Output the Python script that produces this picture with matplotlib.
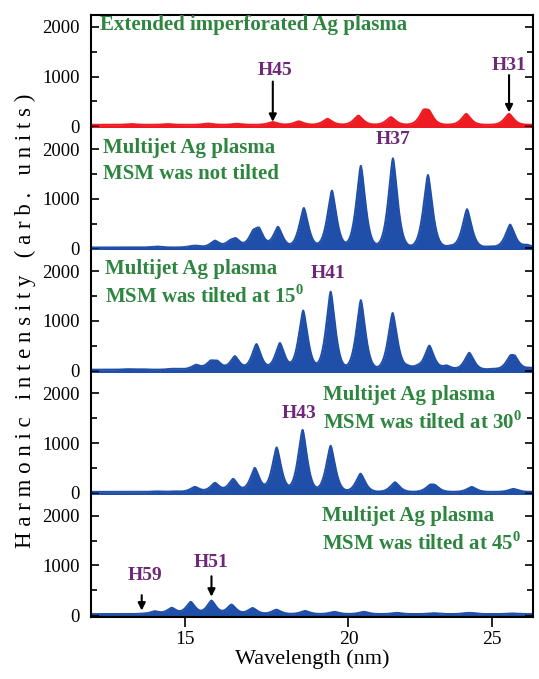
import numpy as np
import matplotlib
matplotlib.use("Agg")
import matplotlib.pyplot as plt
from matplotlib.ticker import MultipleLocator, FixedLocator

plt.rcParams['font.family'] = ['Liberation Serif', 'DejaVu Serif']
plt.rcParams['mathtext.fontset'] = 'custom'
plt.rcParams['mathtext.rm'] = 'Liberation Serif:bold'
plt.rcParams['mathtext.bf'] = 'Liberation Serif:bold'

# ---------------- data (peak centre in nm, peak height in arb. units) -------------
p1_centers = [13.5, 14.5, 15.65, 16.5, 17.59, 18.40, 19.32, 20.33, 21.42, 22.54, 22.74, 24.06, 25.63]
p1_heights = [15, 15, 25, 20, 55, 70, 120, 185, 155, 215, 200, 220, 220]

p2_centers = [14.19, 15.18, 15.32, 15.85, 16.29, 16.47, 16.98, 17.17, 17.75, 18.56, 19.46,
              20.41, 21.49, 22.70, 23.48, 24.09, 24.93, 25.67, 26.30]
p2_heights = [20, 20, 25, 135, 85, 150, 225, 310, 415, 795, 1145, 1645, 1795, 1460, 25, 770, 20, 460, 50]

p3_centers = [13.41, 13.78, 14.61, 14.85, 15.30, 15.72, 15.92, 16.44, 17.09, 17.81, 18.54, 19.42,
              20.41, 21.48, 22.01, 22.32, 22.75, 23.36, 24.17, 25.04, 25.67, 25.85, 26.42]
p3_heights = [10, 8, 15, 12, 95, 135, 135, 270, 515, 535, 1190, 1570, 1400, 1140, 50, 45, 480,
              80, 340, 15, 190, 180, 35]

p4_centers = [14.19, 14.70, 15.27, 15.85, 16.39, 17.04, 17.71, 18.52, 19.42, 20.40, 21.56,
              22.77, 22.95, 24.26, 25.79]
p4_heights = [10, 10, 100, 180, 260, 480, 893, 1247, 927, 367, 193, 100, 90, 100, 60]

p5_centers = [13.78, 14.14, 14.61, 15.15, 15.75, 16.34, 16.97, 17.70, 18.60, 19.54, 20.51,
              21.62, 22.89, 24.07, 24.26, 25.73]
p5_heights = [5, 55, 125, 245, 270, 190, 122, 88, 62, 45, 45, 25, 18, 15, 15, 12]

baselines = [30, 20, 20, 20, 20]

labels_main = ["Extended imperforated Ag plasma",
               "Multijet Ag plasma\nMSM was not tilted",
               "Multijet Ag plasma\nMSM was tilted at 15$^{0}$",
               "Multijet Ag plasma\nMSM was tilted at 30$^{0}$",
               "Multijet Ag plasma\nMSM was tilted at 45$^{0}$"]

yticks = [0, 1000, 2000]
xticks = [15, 20, 25]

# ---------------- styling ----------------
RED = '#ee1c22'
BLUE = '#1f4fa8'
GREEN = '#2e8540'
PURPLE = '#6e2878'
XMIN, XMAX = 12.43, 26.53
SIG = 0.048   # width factor (sigma = SIG*sqrt(lambda))
SHAPE = 1.5   # peak shape exponent (sharper top than a gaussian)

panels = [(p1_centers, p1_heights, RED), (p2_centers, p2_heights, BLUE),
          (p3_centers, p3_heights, BLUE), (p4_centers, p4_heights, BLUE),
          (p5_centers, p5_heights, BLUE)]

ylims = [(-40, 2240), (-40, 2420), (-40, 2420), (-40, 2420), (-40, 2420)]

fig = plt.figure(figsize=(5.39, 6.79), dpi=100)
gs = fig.add_gridspec(5, 1, height_ratios=[2280, 2460, 2460, 2460, 2460],
                      left=0.1688, right=0.9889, top=0.9779, bottom=0.0913, hspace=0)
axes = [fig.add_subplot(gs[i]) for i in range(5)]
for ax in axes[1:]:
    ax.sharex(axes[0])

x = np.linspace(XMIN, XMAX, 4000)
for i, (ax, (cs, hs, col)) in enumerate(zip(axes, panels)):
    y = np.full_like(x, baselines[i], dtype=float)
    for c, h in zip(cs, hs):
        s = SIG * np.sqrt(c)
        y += h * np.exp(-np.abs((x - c) / s) ** SHAPE)
    ax.fill_between(x, ylims[i][0], y, color=col, lw=0)
    ax.plot(x, y, color=col, lw=1.4)
    ax.set_xscale('function', functions=(np.sqrt, np.square))
    ax.set_xlim(XMIN, XMAX)
    ax.set_ylim(*ylims[i])
    ax.yaxis.set_major_locator(FixedLocator(yticks))
    ax.yaxis.set_minor_locator(MultipleLocator(500))
    ax.tick_params(axis='y', which='both', direction='in', left=True, right=True,
                   labelsize=13.5, width=1.2, pad=8)
    ax.tick_params(axis='y', which='major', length=6)
    ax.tick_params(axis='y', which='minor', length=4)
    for sp in ax.spines.values():
        sp.set_linewidth(1.5)
    if i > 0:
        ax.spines['top'].set_visible(False)
    if i < 4:
        ax.spines['bottom'].set_visible(False)
        ax.tick_params(axis='x', which='both', bottom=False, labelbottom=False)
    ax.xaxis.set_minor_locator(FixedLocator([]))

axes[4].xaxis.set_major_locator(FixedLocator(xticks))
axes[4].xaxis.set_major_formatter(plt.FixedFormatter([str(t) for t in xticks]))
axes[4].tick_params(axis='x', which='major', direction='out', length=7, width=1.2,
                    labelsize=14, pad=3)
axes[4].set_xlabel("Wavelength (nm)", fontsize=16, labelpad=1)

ylabel = " ".join(list("Harmonic intensity (arb. units)"))
fig.text(0.048, 0.527, ylabel, rotation=90, fontsize=16.5, ha='center', va='center')

tk = dict(fontsize=15, fontweight='bold', color=GREEN, va='center', ha='left')
axes[0].text(12.66, 2030, labels_main[0], **tk)
axes[1].text(12.74, 1760, labels_main[1], linespacing=1.35, **tk)
axes[2].text(12.80, 1750, labels_main[2], linespacing=1.35, **tk)
axes[3].text(19.18, 1680, labels_main[3], linespacing=1.35, **tk)
axes[4].text(19.13, 1700, labels_main[4], linespacing=1.35, **tk)

pk = dict(fontsize=14, fontweight='bold', color=PURPLE, ha='center', va='center')
arr = dict(arrowstyle='-|>', color='black', lw=1.5, mutation_scale=11, shrinkA=0, shrinkB=0)

axes[0].text(17.65, 1130, "H45", **pk)
axes[0].annotate("", xy=(17.59, 90), xytext=(17.59, 900), arrowprops=arr)
axes[0].text(25.62, 1231, "H31", **pk)
axes[0].annotate("", xy=(25.63, 280), xytext=(25.63, 1030), arrowprops=arr)

axes[1].text(21.49, 2190, "H37", **pk)
axes[2].text(19.33, 1955, "H41", **pk)
axes[3].text(18.42, 1597, "H43", **pk)

axes[4].text(13.87, 801, "H59", **pk)
axes[4].annotate("", xy=(13.78, 90), xytext=(13.78, 400), arrowprops=arr)
axes[4].text(15.75, 1049, "H51", **pk)
axes[4].annotate("", xy=(15.75, 370), xytext=(15.75, 780), arrowprops=arr)

fig.savefig("out.png", dpi=100)
